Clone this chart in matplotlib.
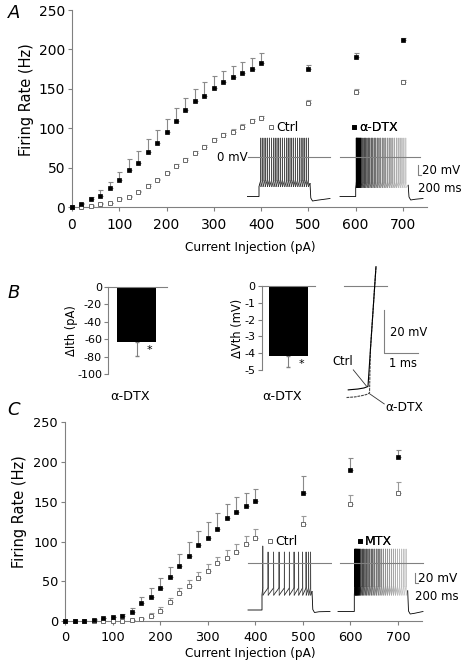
import numpy as np
import matplotlib
matplotlib.use("Agg")
import matplotlib.pyplot as plt
from matplotlib.lines import Line2D

plt.rcParams['font.family'] = ['DejaVu Sans']
plt.rcParams['axes.unicode_minus'] = False

# ---------------- data ----------------
currents = [0, 20, 40, 60, 80, 100, 120, 140, 160, 180, 200, 220, 240, 260, 280,
            300, 320, 340, 360, 380, 400, 500, 600, 700]

# Panel A (alpha-DTX vs control)
A_dtx = [0.8, 4.2, 10.1, 14.3, 24, 34.2, 47.7, 56.6, 70.1, 81.1, 95.9, 109.8, 122.9,
         134.3, 141.5, 151.2, 158.4, 165.1, 170.6, 175.7, 182.9, 174.8, 190.9, 212.4]
A_dtx_err = [0, 1, 3, 7, 8, 10, 14, 15, 16, 17, 16, 16, 16, 15, 17, 15, 14, 14, 14,
             14, 12, 5, 5, 2]
A_ctrl = [0.5, 1, 2, 4, 5, 10, 13, 19, 27, 34, 43, 52, 60, 69, 76, 85, 91, 96, 102,
          109, 113, 131.7, 146.5, 159.2]
A_ctrl_err = [0, 0, 0.5, 1, 1, 1.5, 1.5, 2, 2, 2, 2, 2.5, 2.5, 2.5, 2.5, 3, 3, 3, 3,
              3, 2.7, 4, 3, 2]

# Panel C (MTX vs control)
C_mtx = [0, 0, 0, 1.7, 3.4, 4.6, 6.7, 11.7, 22.6, 30.6, 42, 55.8, 69.6, 82.2, 95.2,
         104.9, 116.2, 129.2, 137.1, 144.7, 151, 161, 190.4, 206.3]
C_mtx_err = [0, 0, 0, 0.5, 1, 1, 1.5, 4.3, 8, 10.4, 11.7, 12.2, 14.4, 16.8, 17.6,
             19.1, 19.3, 18.4, 18.4, 16.8, 15.5, 21, 14.3, 8.5]
C_ctrl = [0, 0, 0, 0, 0, 0.4, 0.5, 1.3, 3, 6.3, 12.6, 24, 35.6, 44, 54, 63.3, 72.6,
          79.7, 87.2, 96.5, 105, 122, 147, 161.5]
C_ctrl_err = [0, 0, 0, 0, 0, 0, 0, 0.5, 1, 3.3, 5.4, 4.5, 6.4, 7, 8, 8, 8.4, 9.6,
              10.1, 10, 10.3, 10, 11.5, 13]

# Panel B bars
B_ith = [-63]
B_ith_err = [16.4]
B_vth = [-4.17]
B_vth_err = [0.67]
B_cat = ['α-DTX']

# Example voltage traces (spike times in ms after current step onset)
A_ctrl_spikes = [17, 38, 60, 82, 103, 125, 147, 168, 190, 212, 233, 255, 277, 298,
                 320, 342, 363, 385, 407, 429, 450, 472, 493]
A_dtx_spikes = [5, 10, 15, 21, 27, 34, 42, 50, 60, 72, 85, 98, 112, 126, 140, 155,
                170, 185, 200, 216, 232, 248, 265, 282, 299, 316, 334, 352, 370, 388,
                406, 424, 443, 462, 481, 500]
A_dtx_shade = [0.0] * 8 + list(np.round(np.linspace(0.25, 0.78, 28), 2))
C_ctrl_spikes = [7, 60, 115, 170, 223, 273, 320, 365, 405, 440, 465, 485]
C_mtx_spikes = [4, 9, 14, 19, 25, 31, 38, 46, 55, 65, 78, 92, 106, 121, 136, 152, 168,
                185, 202, 219, 237, 255, 273, 292, 311, 330, 350, 370, 390, 410, 431,
                452, 473, 495, 517]
C_mtx_shade = [0.0] * 9 + list(np.round(np.linspace(0.25, 0.78, 26), 2))

# Panel B spike onset traces (ms, mV)
Bc_t = [-0.73, -0.45, -0.27, -0.155, 0.079]
Bc_v = [-48.8, -48.4, -47.9, -47.2, 9.1]
Bd_t = [-0.78, -0.53, -0.30, -0.184, -0.11, -0.084, 0.079]
Bd_v = [-52.4, -52.1, -51.4, -50.9, -50.2, -30.0, 9.1]

# ---------------- figure ----------------
W, H = 462, 663
fig = plt.figure(figsize=(W / 100, H / 100), dpi=100)


def rect(l, t, r, b):
    return [l / W, 1 - b / H, (r - l) / W, (b - t) / H]


def fx(x):
    return x / W


def fy(y):
    return 1 - y / H


GRAY = '#808080'


def style_axes(ax, tsize, xpad):
    for s in ['top', 'right']:
        ax.spines[s].set_visible(False)
    for s in ['left', 'bottom']:
        ax.spines[s].set_color(GRAY)
        ax.spines[s].set_linewidth(0.8)
    ax.tick_params(direction='out', length=3, width=0.8, color=GRAY,
                   labelsize=tsize, pad=2)
    ax.tick_params(axis='x', pad=xpad)


def fr_plot(ax, filled, ferr, opn, oerr, tsize, xpad):
    x = np.array(currents)
    ax.errorbar(x, filled, yerr=[np.zeros(len(x)), ferr], fmt='none', ecolor='#8a8a8a',
                elinewidth=0.8, capsize=1.8, capthick=0.8, zorder=2)
    ax.errorbar(x, opn, yerr=[np.zeros(len(x)), oerr], fmt='none', ecolor='#9a9a9a',
                elinewidth=0.8, capsize=1.8, capthick=0.8, zorder=2)
    h1, = ax.plot(x, opn, 's', ms=3.3, mfc='white', mec='#6a6a6a', mew=0.7,
                  zorder=3, clip_on=False)
    h2, = ax.plot(x, filled, 's', ms=3.3, mfc='black', mec='black', mew=0.5,
                  zorder=4, clip_on=False)
    ax.set_xlim(0, 750)
    ax.set_ylim(0, 250)
    ax.set_xticks(range(0, 701, 100))
    ax.set_yticks(range(0, 251, 50))
    style_axes(ax, tsize, xpad)
    return h1, h2


def draw_trace(ax, spikes, shades, t_start, t_end, stim_end, base, trough, thr, peak,
               post_min, post_end, first_peak=None, lw=0.6):
    ax.plot([t_start, 0, 0, spikes[0]], [base, base, trough, thr], color='k', lw=lw)
    for i, ts in enumerate(spikes):
        c = str(shades[i]) if shades is not None else '0.3'
        pk = first_peak if (i == 0 and first_peak is not None) else peak
        if i + 1 < len(spikes):
            nxt, nv = spikes[i + 1], thr
        else:
            nxt, nv = stim_end, (trough + thr) / 2
        ax.plot([ts, ts + 0.8, ts + 2.5], [thr, pk, trough], color=c, lw=lw)
        ax.plot([ts + 2.5, nxt], [trough, nv], color='0.15' if shades is None else c,
                lw=lw)
    ax.plot([stim_end, stim_end + 8, stim_end + 25, stim_end + 70, t_end],
            [(trough + thr) / 2, post_min + 6, post_min, post_min + 1.5, post_end],
            color='k', lw=lw)


def inset(l, t, r, b, xlim, ylim):
    a = fig.add_axes(rect(l, t, r, b))
    a.set_xlim(*xlim)
    a.set_ylim(*ylim)
    a.axis('off')
    a.patch.set_alpha(0)
    return a


def legend_at(ax, handle, label, x, y, size=9):
    lg = ax.legend([handle], [label], loc='center left', bbox_to_anchor=(fx(x), fy(y)),
                   bbox_transform=fig.transFigure, frameon=False, handlelength=0.5,
                   handletextpad=0.15, borderpad=0, borderaxespad=0,
                   prop={'size': size}, markerscale=1.0)
    ax.add_artist(lg)


# ---------- Panel A ----------
axA = fig.add_axes(rect(72, 10, 426.6, 207.3))
hA_open, hA_fill = fr_plot(axA, A_dtx, A_dtx_err, A_ctrl, A_ctrl_err, 10, 5)
fig.text(fx(14), fy(13), 'A', fontsize=13, style='italic', ha='center', va='center')
fig.text(fx(27), fy(100), 'Firing Rate (Hz)', rotation=90, ha='center', va='center',
         fontsize=10.5)
fig.text(fx(250.8), fy(247.3), 'Current Injection (pA)', ha='center', va='center',
         fontsize=8.7)
legend_at(axA, hA_open, 'Ctrl', 268, 127.5)
legend_at(axA, hA_fill, 'α-DTX', 351, 127.5)

# traces in A: 10 ms per px, 2 mV per px, 0 mV at y=157
iA1 = inset(247, 125, 332, 205, (-120, 730), (-96, 64))
draw_trace(iA1, A_ctrl_spikes, None, -120, 710, 510, -79, -59, -47, 38, -88, -83)
iA1.plot([-110, 710], [0, 0], color=GRAY, lw=0.8)
iA2 = inset(338, 125, 425, 205, (-177, 693), (-96, 64))
draw_trace(iA2, A_dtx_spikes, A_dtx_shade, -157, 673, 525, -79, -61, -52, 38, -86, -83)
iA2.plot([-157, 643], [0, 0], color=GRAY, lw=0.8)
fig.text(fx(248), fy(157.3), '0 mV', ha='right', va='center', fontsize=8.5)
fig.add_artist(Line2D([fx(418), fx(418), fx(421)], [fy(165), fy(175), fy(175)],
                      color=GRAY, lw=0.8))
fig.text(fx(421.5), fy(170), '20 mV', ha='left', va='center', fontsize=8.5)
fig.text(fx(418), fy(189), '200 ms', ha='left', va='center', fontsize=8.5)

# ---------- Panel B ----------
fig.text(fx(14), fy(293), 'B', fontsize=13, style='italic', ha='center', va='center')


def bar_panel(box, vals, errs, ylim, yticks, xlim, ylabel, ylab_x, star_xy, cat_x):
    ax = fig.add_axes(rect(*box))
    ax.bar([0], vals, width=1.0, color='black', zorder=2)
    ax.errorbar([0], vals, yerr=[errs, [0]], fmt='none', ecolor=GRAY, elinewidth=0.8,
                capsize=1.2, zorder=1)
    ax.set_ylim(*ylim)
    ax.set_xlim(*xlim)
    ax.set_yticks(yticks)
    ax.set_xticks([])
    for s in ['bottom', 'right']:
        ax.spines[s].set_visible(False)
    for s in ['left', 'top']:
        ax.spines[s].set_color(GRAY)
        ax.spines[s].set_linewidth(0.8)
    ax.tick_params(axis='y', direction='out', length=3, width=0.8, color=GRAY,
                   labelsize=8, pad=1.5)
    fig.text(fx(ylab_x), fy(box[1] + (box[3] - box[1]) / 2), ylabel, rotation=90,
             ha='center', va='center', fontsize=8.3)
    ax.text(star_xy[0], star_xy[1], '*', ha='center', va='center', fontsize=8)
    fig.text(fx(cat_x), fy(396), B_cat[0], ha='center', va='center', fontsize=9.2)
    return ax


bar_panel((108.3, 286.7, 166.7, 374), B_ith, B_ith_err, (-100, 0),
          [0, -20, -40, -60, -80, -100], (-0.734, 0.786), 'ΔIth (pA)', 71.5,
          (0.35, -73), 130)
bar_panel((261.7, 286, 315, 370), B_vth, B_vth_err, (-5, 0),
          [0, -1, -2, -3, -4, -5], (-0.69, 0.685), 'ΔVth (mV)', 237.5, (0.33, -4.62),
          282.5)

# spike onset traces in B
iB = inset(330, 260, 440, 415, (-1.262, 1.945), (-60.6, 12.2))
iB.plot([-0.854, 0.39], [0, 0], color=GRAY, lw=0.8)
iB.plot(Bd_t, Bd_v, color='#444444', lw=0.8, ls=(0, (2.5, 0.8)))
iB.plot(Bc_t, Bc_v, color='black', lw=0.8)
iB.plot([0.31, 0.31, 1.31], [-11.3, -31.3, -31.3], color=GRAY, lw=0.8)
iB.text(0.48, -22, '20 mV', ha='left', va='center', fontsize=8.3)
iB.text(0.45, -36.4, '1 ms', ha='left', va='center', fontsize=8.3)
iB.text(-0.58, -35.6, 'Ctrl', ha='right', va='center', fontsize=8.3)
iB.plot([-0.583, -0.2], [-39.4, -47.0], color='#333333', lw=0.6)
iB.text(0.34, -57.3, 'α-DTX', ha='left', va='center', fontsize=8.8)
iB.plot([0.32, -0.11], [-55.4, -50.6], color='#333333', lw=0.6)

# ---------- Panel C ----------
axC = fig.add_axes(rect(65, 422.3, 421.8, 621))
hC_open, hC_fill = fr_plot(axC, C_mtx, C_mtx_err, C_ctrl, C_ctrl_err, 9.3, 4)
fig.text(fx(14), fy(410), 'C', fontsize=13, style='italic', ha='center', va='center')
fig.text(fx(20), fy(512), 'Firing Rate (Hz)', rotation=90, ha='center', va='center',
         fontsize=10.5)
fig.text(fx(250.8), fy(653.3), 'Current Injection (pA)', ha='center', va='center',
         fontsize=8.7)
legend_at(axC, hC_open, 'Ctrl', 267, 541.5)
legend_at(axC, hC_fill, 'MTX', 356.5, 541.5)

iC1 = inset(246, 535, 332, 625, (-160, 700), (-124, 56))
draw_trace(iC1, C_ctrl_spikes, None, -140, 680, 500, -94, -64, -50, 22, -99, -97,
           first_peak=34)
iC1.plot([-140, 690], [0, 0], color=GRAY, lw=0.8)
iC2 = inset(336, 535, 425, 625, (-183, 707), (-124, 56))
draw_trace(iC2, C_mtx_spikes, C_mtx_shade, -163, 687, 534, -97, -64, -47, 28, -102, -97)
iC2.plot([-143, 687], [0, 0], color=GRAY, lw=0.8)
fig.add_artist(Line2D([fx(415), fx(415), fx(418)], [fy(573.3), fy(583.3), fy(583.3)],
                      color=GRAY, lw=0.8))
fig.text(fx(418.5), fy(578.3), '20 mV', ha='left', va='center', fontsize=8.7)
fig.text(fx(415), fy(597), '200 ms', ha='left', va='center', fontsize=8.5)

fig.savefig('out.png', dpi=100)
